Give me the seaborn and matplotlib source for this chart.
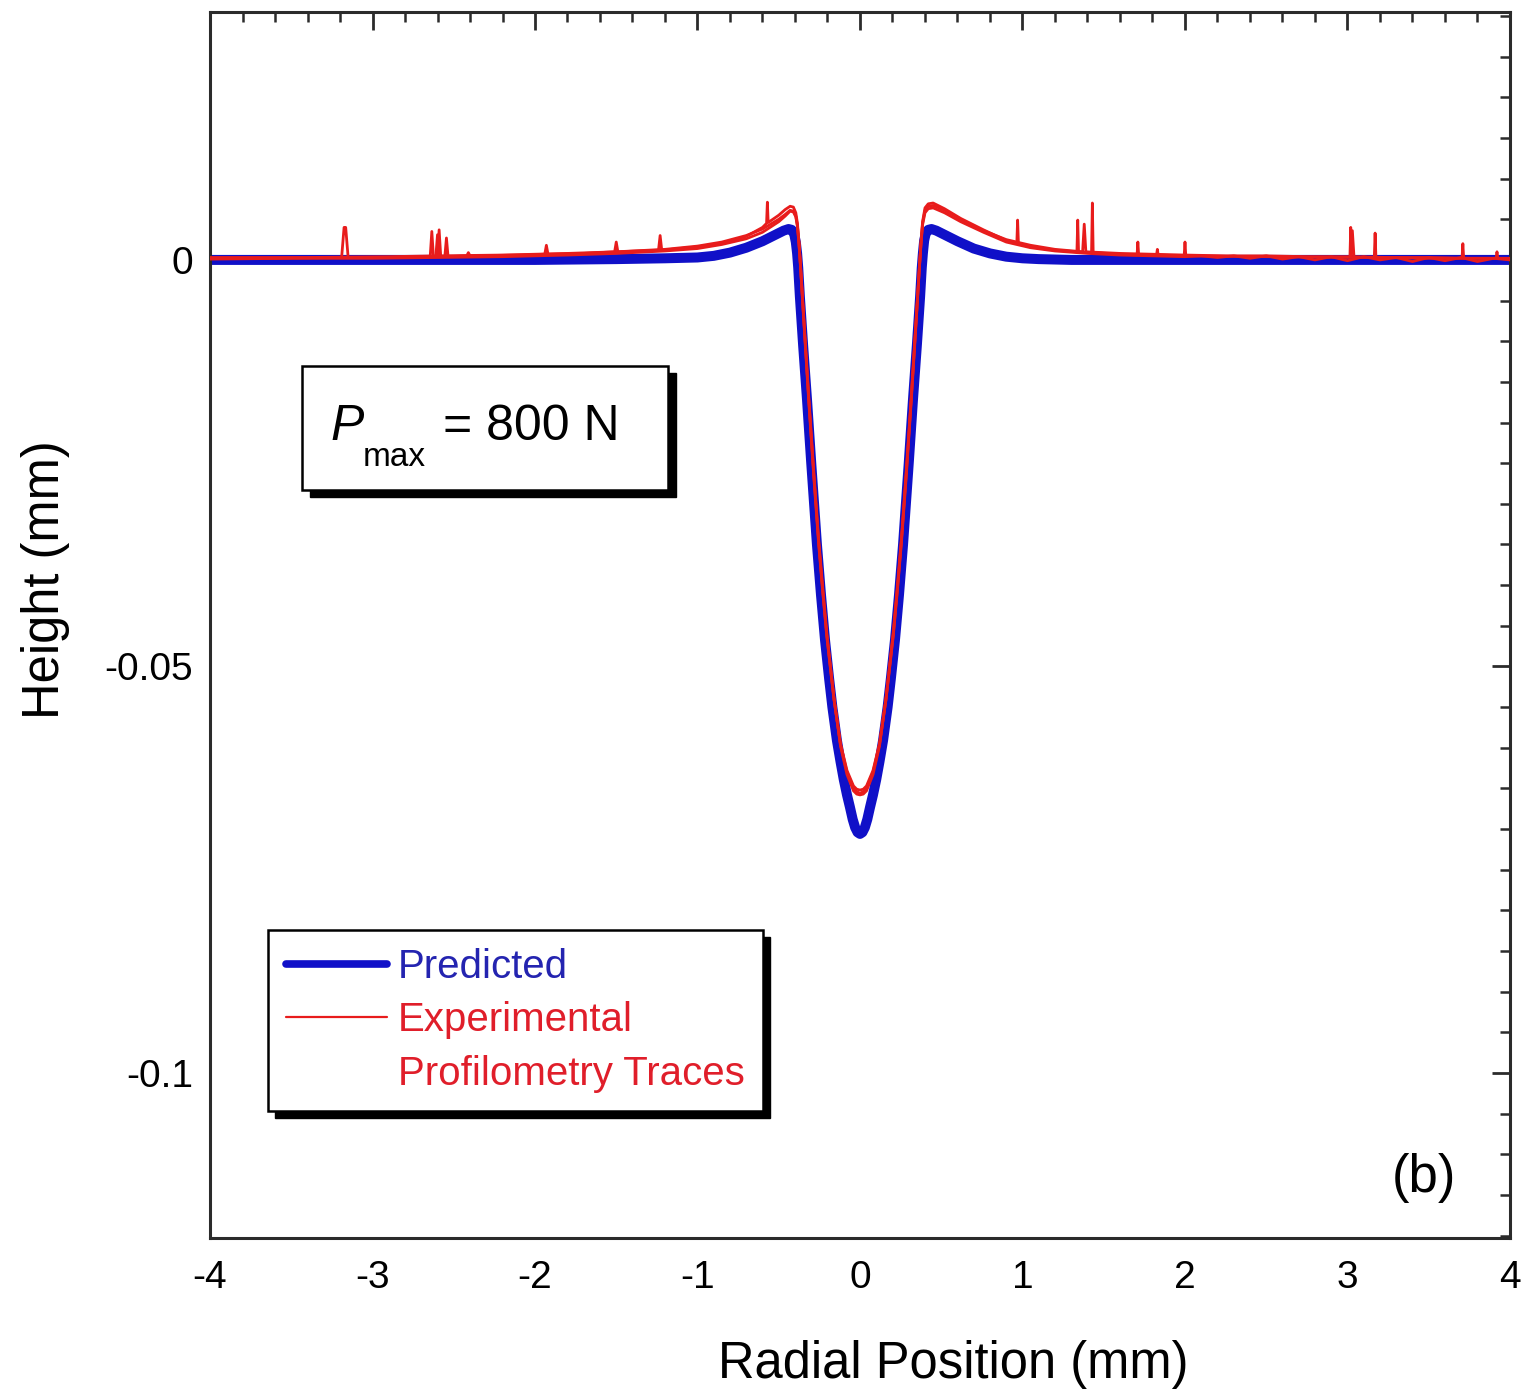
import numpy as np
import pandas as pd
import matplotlib
matplotlib.use("Agg")
import matplotlib.pyplot as plt
import seaborn as sns
from matplotlib.patches import Rectangle
from matplotlib.lines import Line2D
from matplotlib.transforms import IdentityTransform

# ---------------- data ----------------
pred_x = [-4.0, -3.0, -2.0, -1.5, -1.2, -1.0, -0.9, -0.8, -0.7, -0.6, -0.52, -0.47, -0.44, -0.42, -0.405,
          -0.395, -0.387, -0.38, -0.37, -0.35, -0.326, -0.30, -0.265, -0.24, -0.215, -0.19, -0.17, -0.142,
          -0.12, -0.10, -0.08, -0.062, -0.045, -0.03, -0.015, 0.0,
          0.015, 0.03, 0.045, 0.062, 0.08, 0.10, 0.12, 0.142, 0.17, 0.19, 0.215, 0.24, 0.265, 0.30, 0.326,
          0.35, 0.37, 0.38, 0.387, 0.395, 0.405, 0.42, 0.44, 0.47, 0.52, 0.60, 0.70, 0.80, 0.90, 1.0, 1.1,
          1.3, 2.0, 3.0, 4.0]
pred_y = [0.0, 0.0, 0.0, 0.0001, 0.0002, 0.0003, 0.0005, 0.0009, 0.0015, 0.0023, 0.0031, 0.0036, 0.0038, 0.0037, 0.0032,
          0.0022, 0.0008, -0.0010, -0.0045, -0.0105, -0.0172, -0.0250, -0.0350, -0.0412, -0.0468, -0.0515, -0.0550, -0.0591,
          -0.0617, -0.0639, -0.0658, -0.0673, -0.0688, -0.0698, -0.0704, -0.0706,
          -0.0704, -0.0698, -0.0688, -0.0673, -0.0658, -0.0639, -0.0617, -0.0591, -0.0550, -0.0515, -0.0468, -0.0412, -0.0350, -0.0250, -0.0172,
          -0.0105, -0.0045, -0.0010, 0.0008, 0.0024, 0.0033, 0.0037, 0.0038, 0.0036, 0.0031, 0.0023, 0.0014, 0.0008, 0.0004, 0.0002, 0.0001,
          0.0, 0.0, 0.0, 0.0]

expA_x = [-4.00, -3.60, -3.19, -3.175, -3.165, -3.15, -2.80, -2.645, -2.635, -2.625, -2.60, -2.59, -2.58,
          -2.555, -2.545, -2.535, -2.42, -2.41, -2.40, -2.10, -1.94, -1.93, -1.92, -1.70, -1.51, -1.50,
          -1.49, -1.24, -1.23, -1.22, -1.00, -0.90, -0.80, -0.70, -0.60, -0.575, -0.57, -0.565, -0.50, -0.46,
          -0.43, -0.41, -0.395, -0.385, -0.375, -0.365, -0.35, -0.315, -0.285, -0.255, -0.23, -0.205, -0.18,
          -0.16, -0.12, -0.08, -0.04, -0.02, 0.00,
          0.02, 0.04, 0.08, 0.12, 0.16, 0.18, 0.205, 0.23, 0.255, 0.285, 0.315, 0.35, 0.365, 0.375, 0.385,
          0.40, 0.42, 0.45, 0.52, 0.62, 0.76,
          0.90, 0.965, 0.97, 0.975, 1.05, 1.20, 1.335, 1.34, 1.345, 1.425, 1.43, 1.435, 1.60, 1.705, 1.71,
          1.715, 1.825, 1.83, 1.835, 1.995, 2.00, 2.005, 2.50, 3.015, 3.02, 3.025, 3.165, 3.17, 3.175,
          3.50, 3.705, 3.71, 3.715, 3.915, 3.92, 3.925, 4.00]
expA_y = [0.0002, 0.0002, 0.0003, 0.0040, 0.0040, 0.0003, 0.0003, 0.0004, 0.0035, 0.0004, 0.0004, 0.0037, 0.0004,
          0.0004, 0.0027, 0.0004, 0.0005, 0.0009, 0.0005, 0.0006, 0.0007, 0.0018, 0.0007, 0.0008, 0.0010, 0.0022,
          0.0010, 0.0012, 0.0030, 0.0012, 0.0016, 0.0019, 0.0023, 0.0029, 0.0040, 0.0045, 0.0071, 0.0046, 0.0055, 0.0062,
          0.0066, 0.0065, 0.0058, 0.0045, 0.0020, -0.0010, -0.0060, -0.0172, -0.0262, -0.0345, -0.0405, -0.0460, -0.0505,
          -0.0540, -0.0596, -0.0630, -0.0650, -0.0654, -0.0656,
          -0.0654, -0.0650, -0.0630, -0.0596, -0.0540, -0.0505, -0.0460, -0.0405, -0.0345, -0.0262, -0.0172, -0.0060, -0.0010, 0.0020, 0.0047,
          0.0064, 0.0069, 0.0070, 0.0063, 0.0051, 0.0037,
          0.0024, 0.0020, 0.0049, 0.0020, 0.0016, 0.0012, 0.0010, 0.0049, 0.0010, 0.0009, 0.0070, 0.0009, 0.0007, 0.0006, 0.0022,
          0.0006, 0.0006, 0.0013, 0.0006, 0.0005, 0.0022, 0.0005, 0.0004, 0.0003, 0.0040, 0.0003, 0.0003, 0.0033, 0.0003,
          0.0002, 0.0002, 0.0020, 0.0002, 0.0002, 0.0010, 0.0002, 0.0001]

expB_x = [-4.00, -3.50, -3.00, -2.60, -2.20, -1.80, -1.50, -1.20, -1.00, -0.85, -0.70, -0.60, -0.50, -0.46,
          -0.43, -0.41, -0.395, -0.385, -0.375, -0.365, -0.35, -0.315, -0.285, -0.255, -0.23, -0.205, -0.18,
          -0.16, -0.12, -0.08, -0.04, -0.02, 0.00,
          0.02, 0.04, 0.08, 0.12, 0.16, 0.18, 0.205, 0.23, 0.255, 0.285, 0.315, 0.35, 0.365, 0.375, 0.385,
          0.40, 0.42, 0.45, 0.52, 0.62, 0.76,
          0.90, 1.05, 1.20, 1.40, 1.60, 1.80, 2.00, 2.10, 2.20, 2.30, 2.40, 2.50, 2.60, 2.70, 2.80, 2.90,
          3.00, 3.10, 3.20, 3.30, 3.40, 3.50, 3.60, 3.70, 3.80, 3.90, 4.00]
expB_y = [0.0001, 0.0002, 0.0002, 0.0003, 0.0004, 0.0006, 0.0008, 0.0011, 0.0014, 0.0019, 0.0026, 0.0034, 0.0047, 0.0054,
          0.0060, 0.0059, 0.0053, 0.0041, 0.0018, -0.0012, -0.0062, -0.0175, -0.0265, -0.0348, -0.0407, -0.0462, -0.0506,
          -0.0541, -0.0595, -0.0628, -0.0647, -0.0651, -0.0652,
          -0.0651, -0.0647, -0.0628, -0.0595, -0.0541, -0.0506, -0.0462, -0.0407, -0.0348, -0.0265, -0.0175, -0.0062, -0.0012, 0.0018, 0.0043,
          0.0058, 0.0063, 0.0064, 0.0058, 0.0047, 0.0034,
          0.0022, 0.0015, 0.0011, 0.0008, 0.0006, 0.0005, 0.0004, 0.0005, 0.0003, 0.0005, 0.0002, 0.0005, 0.0001, 0.0004, 0.0000, 0.0004,
          -0.0001, 0.0004, 0.0000, 0.0003, -0.0002, 0.0003, -0.0001, 0.0003, -0.0002, 0.0002, 0.0000]

expC_x = [-4.00, -3.40, -2.90, -2.61, -2.60, -2.59, -2.20, -1.80, -1.50, -1.20, -1.00, -0.85, -0.70, -0.60,
          -0.50, -0.46, -0.43, -0.41, -0.395, -0.385, -0.375, -0.365, -0.35, -0.315, -0.285, -0.255, -0.23,
          -0.205, -0.18, -0.16, -0.12, -0.08, -0.04, -0.02, 0.00,
          0.02, 0.04, 0.08, 0.12, 0.16, 0.18, 0.205, 0.23, 0.255, 0.285, 0.315, 0.35, 0.365, 0.375, 0.385,
          0.40, 0.42, 0.45, 0.52,
          0.62, 0.76, 0.90, 1.05, 1.20, 1.37, 1.38, 1.39, 1.60, 1.80, 2.00, 2.25, 2.50, 2.75, 3.02, 3.03,
          3.04, 3.25, 3.50, 3.75, 4.00]
expC_y = [0.0003, 0.0003, 0.0004, 0.0005, 0.0031, 0.0005, 0.0006, 0.0008, 0.0010, 0.0013, 0.0017, 0.0022, 0.0030, 0.0038,
          0.0050, 0.0056, 0.0061, 0.0060, 0.0054, 0.0042, 0.0019, -0.0011, -0.0059, -0.0170, -0.0259, -0.0343, -0.0402,
          -0.0458, -0.0503, -0.0539, -0.0598, -0.0633, -0.0653, -0.0657, -0.0658,
          -0.0657, -0.0653, -0.0633, -0.0598, -0.0539, -0.0503, -0.0458, -0.0402, -0.0343, -0.0259, -0.0170, -0.0059, -0.0011, 0.0019, 0.0045,
          0.0061, 0.0066, 0.0067, 0.0061,
          0.0050, 0.0036, 0.0025, 0.0018, 0.0013, 0.0010, 0.0044, 0.0010, 0.0008, 0.0007, 0.0006, 0.0005, 0.0005, 0.0004, 0.0004, 0.0036,
          0.0004, 0.0003, 0.0003, 0.0002, 0.0002]

x_ticks = [-4, -3, -2, -1, 0, 1, 2, 3, 4]
x_tick_labels = ["-4", "-3", "-2", "-1", "0", "1", "2", "3", "4"]
y_ticks = [-0.1, -0.05, 0.0]
y_tick_labels = ["-0.1", "-0.05", "0"]

BLUE = "#1010c8"
RED = "#e81c1c"
BLUE_TXT = "#2424b0"
RED_TXT = "#e01e2a"
INK = "#2b2b2b"

# ---------------- style ----------------
sns.set_style("white")
plt.rcParams["font.family"] = ["Liberation Sans", "DejaVu Sans"]
plt.rcParams["axes.unicode_minus"] = False
plt.rcParams["text.color"] = "black"
plt.rcParams["axes.labelcolor"] = "black"

fig = plt.figure(figsize=(15.24, 13.89), dpi=100)
ax = fig.add_axes([0.1378, 0.1087, 0.8530, 0.8827])

sns.lineplot(x=pred_x, y=pred_y, ax=ax, color=BLUE, lw=7.2, sort=False, estimator=None,
             solid_capstyle="round", solid_joinstyle="round", zorder=2)
for xs, ys in [(expB_x, expB_y), (expC_x, expC_y), (expA_x, expA_y)]:
    sns.lineplot(x=xs, y=ys, ax=ax, color=RED, lw=2.0, sort=False, estimator=None,
                 solid_joinstyle="round", zorder=3)

ax.set_xlim(-4, 4)
ax.set_ylim(-0.1203, 0.0305)
ax.set_xticks(x_ticks)
ax.set_xticklabels(x_tick_labels)
ax.set_yticks(y_ticks)
ax.set_yticklabels(y_tick_labels)
ax.xaxis.set_minor_locator(matplotlib.ticker.MultipleLocator(0.2))
ax.yaxis.set_minor_locator(matplotlib.ticker.MultipleLocator(0.005))
ax.tick_params(which="both", direction="in", top=True, right=True, color=INK)
ax.tick_params(which="major", length=13, width=2.0, labelsize=28, pad=16, labelcolor="black")
ax.tick_params(which="minor", length=7, width=1.8)
ax.tick_params(axis="y", which="major", pad=12)
for s in ax.spines.values():
    s.set_linewidth(2.2)
    s.set_color(INK)
    s.set_visible(True)

ax.set_xlabel("Radial Position (mm)", fontsize=36.5, color="black")
ax.set_ylabel("Height (mm)", fontsize=36.5, color="black")
ax.xaxis.set_label_coords(0.572, -0.083)
ax.yaxis.set_label_coords(-0.108, 0.537)

# P_max box with shadow
dx, dy = 8 / 1300, -7 / 1226
ax.add_patch(Rectangle((0.0708 + dx, 0.6101 + dy), 0.2815, 0.1012, transform=ax.transAxes,
                       facecolor="black", edgecolor="black", zorder=4))
ax.add_patch(Rectangle((0.0708, 0.6101), 0.2815, 0.1012, transform=ax.transAxes,
                       facecolor="white", edgecolor="black", lw=1.8, zorder=5))
ax.text(0.0923, 0.6509, "P", transform=ax.transAxes, fontsize=36, style="italic",
        va="baseline", ha="left", zorder=6, color="black")
ax.text(0.1177, 0.6297, "max", transform=ax.transAxes, fontsize=24,
        va="baseline", ha="left", zorder=6, color="black")
ax.text(0.1792, 0.6509, "= 800 N", transform=ax.transAxes, fontsize=36,
        va="baseline", ha="left", zorder=6, color="black")

ax.text(0.934, 0.049, "(b)", transform=ax.transAxes, fontsize=38, ha="center", va="center",
        color="black")

# legend
handles = [Line2D([], [], color=BLUE, lw=5.5),
           Line2D([], [], color=RED, lw=1.6),
           Line2D([], [], color="none", lw=0)]
labels = ["Predicted", "Experimental", "Profilometry Traces"]
leg = ax.legend(handles, labels, loc="upper left", bbox_to_anchor=(0.0446, 0.2512),
                borderaxespad=0, fontsize=29, frameon=True, fancybox=False, framealpha=1,
                edgecolor="black", handlelength=2.5, handletextpad=0.28, borderpad=0.45,
                labelspacing=0.38)
leg.get_frame().set_linewidth(1.8)
leg.set_zorder(6)
for t, c in zip(leg.get_texts(), [BLUE_TXT, RED_TXT, RED_TXT]):
    t.set_color(c)

fig.canvas.draw()
bb = leg.get_frame().get_window_extent(fig.canvas.get_renderer())
shadow = Rectangle((bb.x0 + 7, bb.y0 - 7), bb.width, bb.height, transform=IdentityTransform(),
                   facecolor="black", edgecolor="black", zorder=5.5, clip_on=False)
ax.add_artist(shadow)

fig.savefig("out.png", dpi=100, facecolor="white")
